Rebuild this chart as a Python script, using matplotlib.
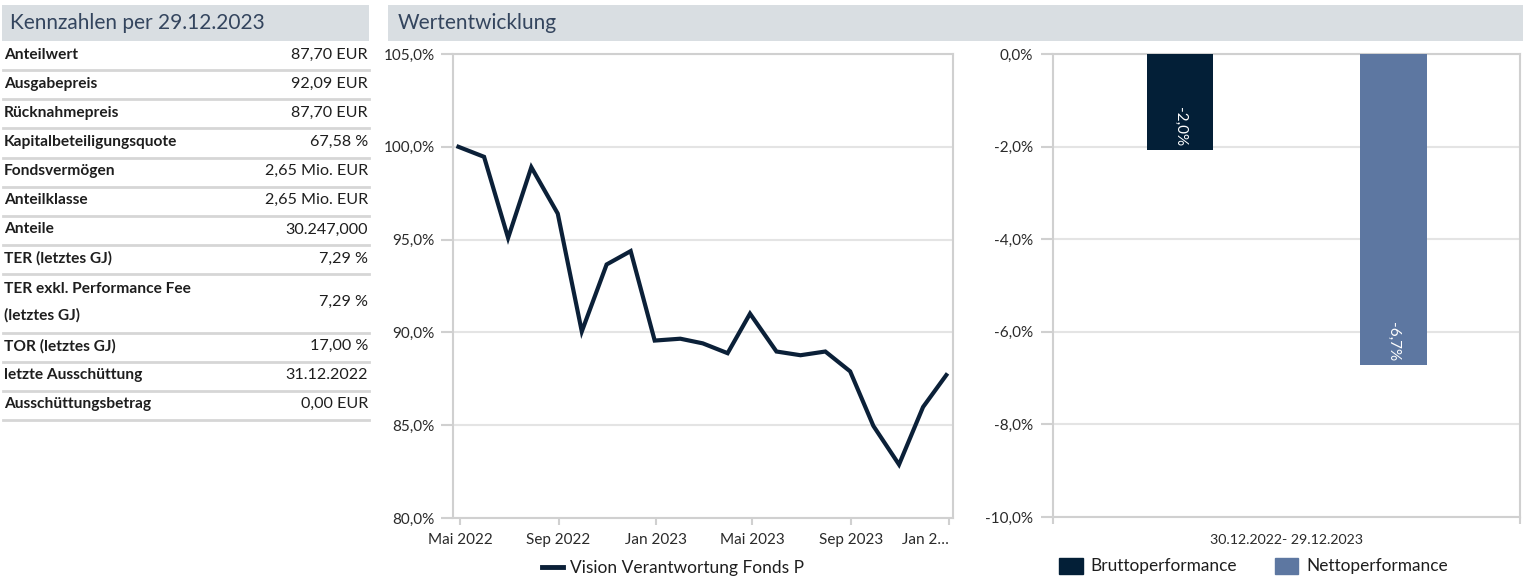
import matplotlib.pyplot as plt
import pandas as pd
from matplotlib.patches import Rectangle, Patch
from matplotlib.lines import Line2D

plt.rcParams['font.family'] = ['Lato', 'DejaVu Sans']

# Kennzahlen
table_title = "Kennzahlen per 29.12.2023"
table_labels = ["Anteilwert", "Ausgabepreis", "Rücknahmepreis", "Kapitalbeteiligungsquote",
                "Fondsvermögen", "Anteilklasse", "Anteile", "TER (letztes GJ)",
                "TER exkl. Performance Fee\n(letztes GJ)", "TOR (letztes GJ)",
                "letzte Ausschüttung", "Ausschüttungsbetrag"]
table_values = ["87,70 EUR", "92,09 EUR", "87,70 EUR", "67,58 %", "2,65 Mio. EUR",
                "2,65 Mio. EUR", "30.247,000", "7,29 %", "7,29 %", "17,00 %",
                "31.12.2022", "0,00 EUR"]

# Wertentwicklung
chart_title = "Wertentwicklung"
series_name = "Vision Verantwortung Fonds P"
dates = ["2022-04-29", "2022-05-31", "2022-06-30", "2022-07-29", "2022-08-31", "2022-09-30",
         "2022-10-31", "2022-11-30", "2022-12-30", "2023-01-31", "2023-02-28", "2023-03-31",
         "2023-04-28", "2023-05-31", "2023-06-30", "2023-07-31", "2023-08-31", "2023-09-29",
         "2023-10-31", "2023-11-30", "2023-12-29"]
fund_values = [100.0, 99.46, 95.09, 98.9, 96.4, 90.05, 93.66, 94.38, 89.56, 89.66, 89.41,
               88.88, 91.01, 88.97, 88.77, 88.97, 87.9, 84.96, 82.88, 85.98, 87.7]
tick_dates = ["2022-05-01", "2022-09-01", "2023-01-01", "2023-05-01", "2023-09-01", "2024-01-01"]
tick_labels = ["Mai 2022", "Sep 2022", "Jan 2023", "Mai 2023", "Sep 2023", "Jan 2…"]

# Performance
perf_period = "30.12.2022- 29.12.2023"
perf_names = ["Bruttoperformance", "Nettoperformance"]
perf_values = [-2.07, -6.71]
perf_labels = ["-2,0%", "-6,7%"]
perf_colors = ["#031f37", "#5d77a1"]

W, H = 1531, 576
fig = plt.figure(figsize=(W / 100, H / 100), dpi=100)

band = "#d9dee2"
head_col = "#34455e"
txt = "#1e1e1e"
lab_col = "#2a2a2a"
grid_col = "#e4e4e4"
spine_col = "#d0d0d0"
navy = "#0b2038"


def px_axes(x0, y0, x1, y1):
    return fig.add_axes([x0 / W, 1 - y1 / H, (x1 - x0) / W, (y1 - y0) / H])


bg = fig.add_axes([0, 0, 1, 1], zorder=0)
bg.set_xlim(0, W)
bg.set_ylim(H, 0)
bg.axis('off')

# header bands
bg.add_patch(Rectangle((2, 5), 367, 36, color=band, lw=0))
bg.add_patch(Rectangle((388, 5), 1135, 36, color=band, lw=0))
bg.text(10, 23, table_title, fontsize=15, color=head_col, va='center')
bg.text(398, 23, chart_title, fontsize=15, color=head_col, va='center')

# table
row_h = 29.15
top = 41
for lab, val in zip(table_labels, table_values):
    n = lab.count("\n") + 1
    h = row_h * n
    cy = top + h / 2 - 1
    bg.text(4, cy, lab, fontsize=11.2, fontweight='bold', color=txt, va='center',
            linespacing=2.0)
    bg.text(368, cy, val, fontsize=11.6, color=txt, va='center', ha='right')
    top += h
    bg.plot([3, 369], [top, top], color="#d6d6d6", lw=2)

# line chart
ax1 = px_axes(453.3, 54, 952.7, 518)
d = pd.to_datetime(dates)
ax1.plot(d, fund_values, color=navy, lw=3, solid_joinstyle='miter', label=series_name)
ax1.set_ylim(80, 105)
ax1.set_yticks([80, 85, 90, 95, 100, 105])
ax1.set_yticklabels([f"{v:.1f}%".replace(".", ",") for v in [80, 85, 90, 95, 100, 105]])
td = pd.to_datetime(tick_dates)
ax1.set_xlim(td[0] - pd.Timedelta(days=8.4), td[-1] + pd.Timedelta(days=5))
ax1.set_xticks(td)
ax1.set_xticklabels(tick_labels)
ax1.get_xticklabels()[-1].set_ha('right')
ax1.grid(axis='y', color=grid_col, lw=1.5)
ax1.tick_params(axis='y', length=8.4, width=1.5, color=spine_col, labelsize=11,
                labelcolor=lab_col, pad=4.8)
ax1.tick_params(axis='x', length=5, width=1.5, color=spine_col, labelsize=11,
                labelcolor=lab_col, pad=6)
for s in ax1.spines.values():
    s.set_color(spine_col)
    s.set_linewidth(1.5)
ax1.set_axisbelow(True)
fig.legend(handles=[Line2D([0], [0], color=navy, lw=3.5)], labels=[series_name],
           loc='center', bbox_to_anchor=(673 / W, 1 - 568 / H), frameon=False,
           fontsize=12.5, handlelength=1.2, handletextpad=0.45, labelcolor=txt)

# bar chart
ax2 = px_axes(1053.3, 54, 1520, 517)
offsets = [-0.2286, 0.2286]
ax2.bar(offsets, perf_values, width=0.143, color=perf_colors, zorder=3)
for x, v, lab in zip(offsets, perf_values, perf_labels):
    ax2.annotate(lab, (x, v), xytext=(0, 2.5), textcoords='offset points', rotation=270,
                 ha='center', va='bottom', color='white', fontsize=11, zorder=4)
ax2.set_xlim(-0.5, 0.5)
ax2.set_ylim(-10, 0)
ax2.set_yticks([-10, -8, -6, -4, -2, 0])
ax2.set_yticklabels([f"{v:.1f}%".replace(".", ",") for v in [-10, -8, -6, -4, -2, 0]])
ax2.set_xticks([0])
ax2.set_xticklabels([perf_period])
ax2.set_xticks([-0.5, 0.5], minor=True)
ax2.tick_params(axis='x', which='major', length=0, labelsize=10.2, labelcolor=lab_col, pad=12)
ax2.tick_params(axis='x', which='minor', length=5, width=1.5, color=spine_col)
ax2.tick_params(axis='y', length=8.6, width=1.5, color=spine_col, labelsize=11,
                labelcolor=lab_col, pad=6)
ax2.grid(axis='y', color=grid_col, lw=1.5)
ax2.set_axisbelow(True)
for s in ax2.spines.values():
    s.set_color(spine_col)
    s.set_linewidth(1.5)
fig.legend(handles=[Patch(color=c) for c in perf_colors], labels=perf_names,
           loc='center', bbox_to_anchor=(1253.5 / W, 1 - 566 / H), frameon=False, ncol=2,
           fontsize=12.4, handlelength=1.35, handleheight=1.05, handletextpad=0.45,
           columnspacing=2.2, labelcolor=txt)

fig.savefig("out.png", dpi=100)
